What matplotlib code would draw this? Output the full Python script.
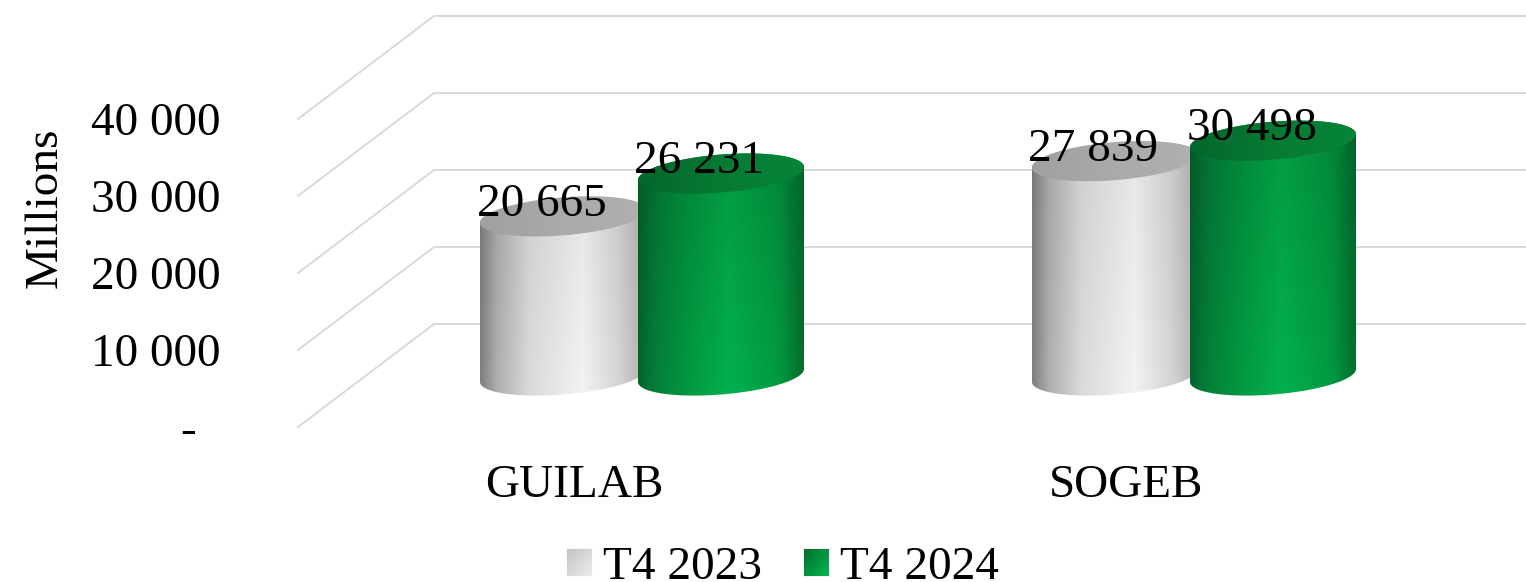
import numpy as np
import matplotlib
matplotlib.use('Agg')
import matplotlib.pyplot as plt
from matplotlib.colors import LinearSegmentedColormap
from matplotlib.legend_handler import HandlerBase
from matplotlib.patches import Polygon, Rectangle

plt.rcParams['font.family'] = ['Liberation Serif', 'DejaVu Serif']

# data
categories = ['GUILAB', 'SOGEB']
series_names = ['T4 2023', 'T4 2024']
values_2023 = [20665, 27839]
values_2024 = [26231, 30498]
y_ticks = [0, 10000, 20000, 30000, 40000]
y_tick_labels = ['-  ', '10 000', '20 000', '30 000', '40 000']
bar_labels_2023 = ['20 665', '27 839']
bar_labels_2024 = ['26 231', '30 498']

# gradient stops
grey_side = [(0, '#808080'), (0.1, '#b0b0b0'), (0.3, '#dcdcdc'), (0.62, '#f4f4f4'), (0.85, '#d4d4d4'), (1, '#b0b0b0')]
green_side = [(0, '#04662d'), (0.1, '#04803a'), (0.3, '#029a42'), (0.55, '#03b24e'), (0.85, '#029c42'), (1, '#04702f')]
grey_top = ['#a0a0a0', '#aaaaaa', '#b0b0b0']
green_top = ['#04662c', '#067a33', '#07843a']

W, H = 1526, 582
PX_X = 552          # pixels per category
PX_Y = 77 / 10000   # pixels per unit
AX_LEFT, AX_BOTTOM = 228, 427
CAT0_PX = 574

DEPTH_X = 136 / PX_X
DEPTH_Y = 103 / PX_Y
BAR_W = 166 / PX_X
BAR_SHIFT = 79 / PX_X
ELL_B = 19 / PX_Y
ELL_S = 6.5 / PX_Y

fig = plt.figure(figsize=(W / 100, H / 100), dpi=100)
ax = fig.add_axes([AX_LEFT / W, (H - AX_BOTTOM) / H, (W - AX_LEFT) / W, AX_BOTTOM / H])
xlim = ((AX_LEFT - CAT0_PX) / PX_X, (W - CAT0_PX) / PX_X)
ylim = (0, AX_BOTTOM / PX_Y)


def ellipse(cx, cy, t):
    return cx + BAR_W / 2 * np.cos(t), cy + ELL_S * np.cos(t) + ELL_B * np.sin(t)


def gradient(stops, shade):
    cmap = LinearSegmentedColormap.from_list('g', stops)
    col = cmap(np.linspace(0, 1, 200))[:, :3]
    v = np.linspace(shade, 1, 120)[:, None, None]
    return col[None, :, :] * v


def cylinder(cx, value, side, top, shade):
    base = DEPTH_Y / 2
    top_y = base + value
    t_low = np.linspace(np.pi, 2 * np.pi, 80)
    t_up = np.linspace(0, np.pi, 80)
    bx, by = ellipse(cx, base, t_low)
    ux, uy = ellipse(cx, top_y, t_up)
    body = Polygon(np.r_[np.c_[bx, by], np.c_[ux, uy]], transform=ax.transData, fc='none', ec='none')
    ax.add_patch(body)
    extent = (cx - BAR_W / 2, cx + BAR_W / 2, base - 2 * ELL_B, top_y + 2 * ELL_B)
    im = ax.imshow(gradient(side, shade), extent=extent, aspect='auto', origin='upper',
                   zorder=3, interpolation='bilinear')
    im.set_clip_path(body)
    # cap
    cx_pts, cy_pts = ellipse(cx, top_y, np.linspace(0, 2 * np.pi, 160))
    cap = Polygon(np.c_[cx_pts, cy_pts], transform=ax.transData, fc='none', ec='none')
    ax.add_patch(cap)
    im2 = ax.imshow(gradient(top, 1.0), extent=extent, aspect='auto', origin='upper',
                    zorder=3, interpolation='bilinear')
    im2.set_clip_path(cap)
    return top_y


# grid, walls
for v in y_ticks:
    ax.plot([-0.5, -0.5 + DEPTH_X, xlim[1]], [v, v + DEPTH_Y, v + DEPTH_Y],
            color='#d9d9d9', lw=1.4, zorder=1, clip_on=False)

bar_tops = []
for i in range(len(categories)):
    gx = i + DEPTH_X / 2
    t1 = cylinder(gx - BAR_SHIFT, values_2023[i], grey_side, grey_top, 0.94)
    t2 = cylinder(gx + BAR_SHIFT, values_2024[i], green_side, green_top, 0.86)
    bar_tops.append((gx - BAR_SHIFT, t1, bar_labels_2023[i]))
    bar_tops.append((gx + BAR_SHIFT, t2, bar_labels_2024[i]))

for x, y, lab in bar_tops:
    ax.annotate(lab, (x, y), xytext=(-15.5, 8.5), textcoords='offset points',
                ha='center', va='center', fontsize=34, color='black', zorder=6)

ax.set_xlim(xlim)
ax.set_ylim(ylim)
ax.set_xticks(range(len(categories)))
ax.set_xticklabels(categories)
ax.set_yticks(y_ticks)
ax.set_yticklabels(y_tick_labels)
ax.tick_params(axis='x', length=0, pad=27, labelsize=34)
ax.tick_params(axis='y', length=0, pad=5.5, labelsize=34)
ax.set_ylabel('Millions', fontsize=34)
ax.yaxis.set_label_coords((67 - AX_LEFT) / (W - AX_LEFT), (AX_BOTTOM - 208) / AX_BOTTOM)
for s in ax.spines.values():
    s.set_visible(False)
ax.patch.set_visible(False)


# legend swatches with a diagonal gradient
class GradientHandler(HandlerBase):
    def __init__(self, c0, c1):
        super().__init__()
        self.cmap = LinearSegmentedColormap.from_list('s', [c0, c1])

    def create_artists(self, legend, orig, xd, yd, width, height, fontsize, trans):
        n = 16
        arts = []
        for i in range(n):
            for j in range(n):
                c = self.cmap((i + (n - 1 - j)) / (2 * n - 2))
                arts.append(Rectangle((-xd + width * i / n, -yd + height * j / n),
                                      width / n, height / n, fc=c, ec=c, lw=0.1, transform=trans))
        return arts


h1 = Rectangle((0, 0), 1, 1)
h2 = Rectangle((0, 0), 1, 1)
fig.legend([h1, h2], series_names, loc='center', bbox_to_anchor=(783 / W, 1 - 568 / H),
           ncol=2, frameon=False, fontsize=34, handlelength=0.53, handleheight=0.53,
           handletextpad=0.235, columnspacing=0.89, borderpad=0, labelspacing=0,
           handler_map={h1: GradientHandler('#c4c4c4', '#ececec'),
                        h2: GradientHandler('#04702f', '#03b54f')})

fig.savefig('out.png', dpi=100)
